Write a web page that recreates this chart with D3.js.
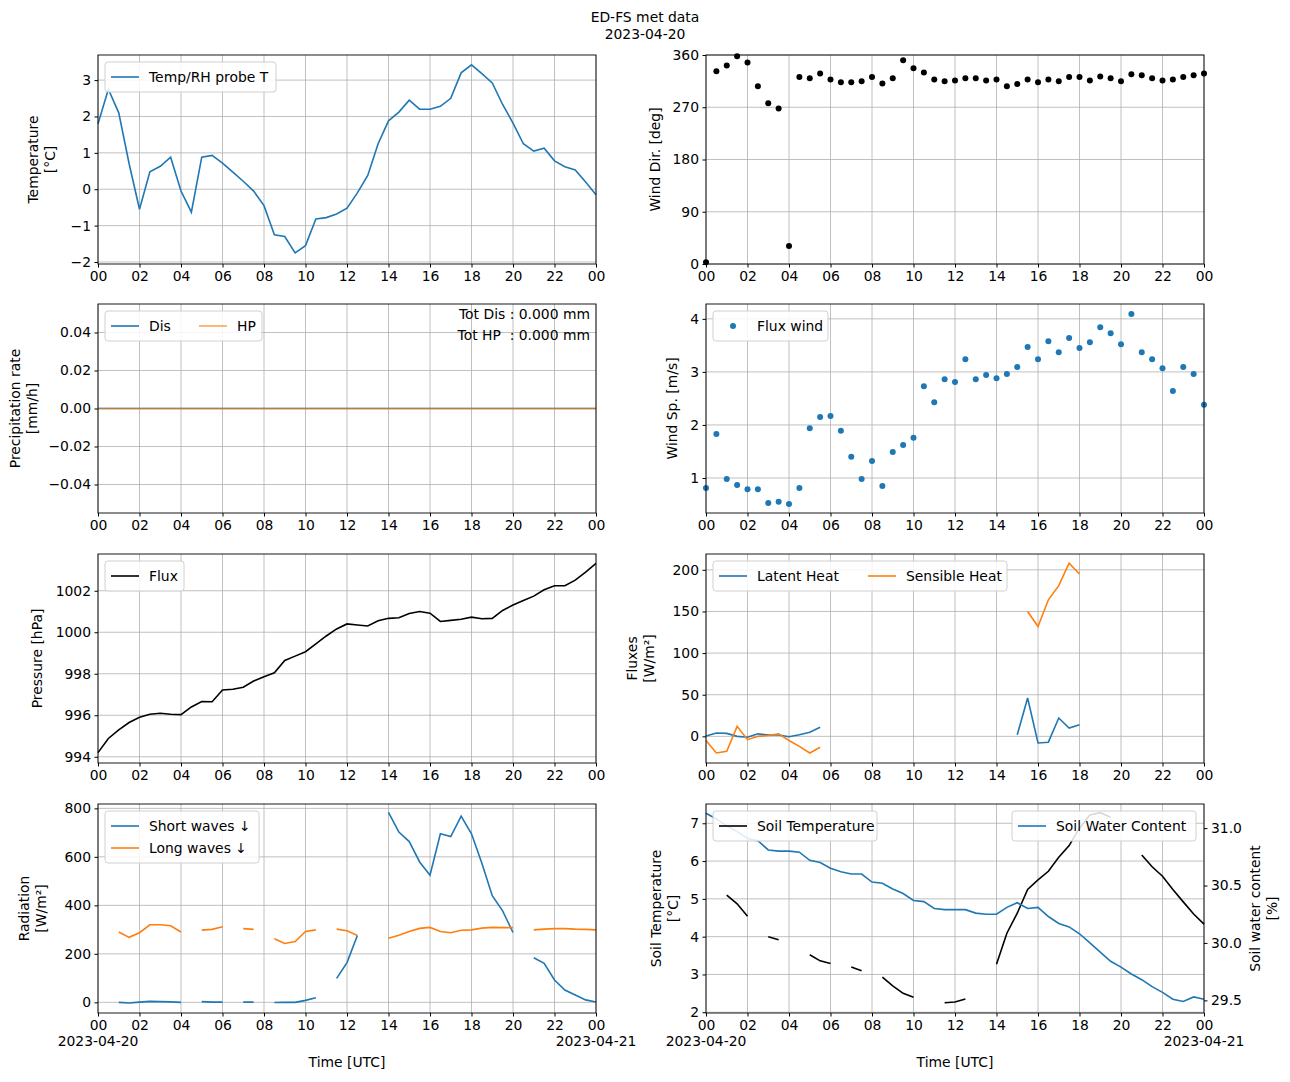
<!DOCTYPE html>
<html><head><meta charset="utf-8">
<script src="https://cdn.jsdelivr.net/npm/d3@7"></script>
<style>body{margin:0;background:#fff}text{font-family:"DejaVu Sans",sans-serif}</style>
</head><body><svg id="fig" width="1290" height="1082"></svg>
<script>
// half-hourly time stamps, hours since 2023-04-20 00:00 UTC
var hours = [0,0.5,1,1.5,2,2.5,3,3.5,4,4.5,5,5.5,6,6.5,7,7.5,8,8.5,9,9.5,10,10.5,11,11.5,12,12.5,13,13.5,14,14.5,15,15.5,16,16.5,17,17.5,18,18.5,19,19.5,20,20.5,21,21.5,22,22.5,23,23.5,24];
var xTicks = [0,2,4,6,8,10,12,14,16,18,20,22,24];
var xTickLabels = ["00","02","04","06","08","10","12","14","16","18","20","22","00"];

var airTemp = [1.8,2.75,2.1,0.7,-0.55,0.48,0.63,0.88,-0.05,-0.63,0.88,0.93,0.72,0.47,0.22,-0.05,-0.45,-1.25,-1.3,-1.75,-1.55,-0.82,-0.78,-0.68,-0.52,-0.1,0.38,1.25,1.88,2.12,2.45,2.2,2.2,2.28,2.5,3.2,3.42,3.18,2.92,2.33,1.82,1.25,1.05,1.13,0.78,0.62,0.53,0.2,-0.15];
var windDir = [3,332,342,358,347,306,277,268,31,322,320,328,318,313,313,315,322,311,320,351,337,330,318,315,316,320,320,316,318,306,310,318,313,318,315,322,322,316,323,320,315,327,325,320,316,318,322,325,328];
var precipDis = [0,0,0,0,0,0,0,0,0,0,0,0,0,0,0,0,0,0,0,0,0,0,0,0,0,0,0,0,0,0,0,0,0,0,0,0,0,0,0,0,0,0,0,0,0,0,0,0,0];
var precipHP = [0,0,0,0,0,0,0,0,0,0,0,0,0,0,0,0,0,0,0,0,0,0,0,0,0,0,0,0,0,0,0,0,0,0,0,0,0,0,0,0,0,0,0,0,0,0,0,0,0];
var windSpeed = [0.81,1.83,0.98,0.87,0.79,0.79,0.53,0.55,0.51,0.81,1.94,2.15,2.17,1.89,1.40,0.98,1.32,0.85,1.49,1.62,1.76,2.73,2.43,2.86,2.81,3.24,2.86,2.94,2.88,2.96,3.09,3.47,3.24,3.58,3.37,3.64,3.45,3.56,3.84,3.73,3.52,4.09,3.37,3.24,3.07,2.64,3.09,2.96,2.38];
var pressure = [994.2,994.88,995.3,995.65,995.9,996.05,996.1,996.05,996.03,996.4,996.66,996.65,997.22,997.25,997.35,997.65,997.86,998.05,998.64,998.85,999.06,999.44,999.82,1000.16,1000.4,1000.35,1000.3,1000.55,1000.67,1000.7,1000.9,1001.0,1000.92,1000.52,1000.57,1000.63,1000.73,1000.65,1000.67,1001.05,1001.31,1001.53,1001.74,1002.05,1002.24,1002.24,1002.51,1002.9,1003.32];
var latentHeat = [0.4,4,3.6,0,-1,3,1.6,1.6,-0.4,2,5,11,null,null,null,null,null,null,null,null,null,null,null,null,null,null,null,null,null,null,2,46,-8,-7,22,10,14,null,null,null,null,null,null,null,null,null,null,null,null];
var sensibleHeat = [-5,-20,-18,12,-4,0,1,3,-5,-12,-20,-13,null,null,null,null,null,null,null,null,null,null,null,null,null,null,null,null,null,null,null,150,132,164,181,208,195,null,null,null,null,null,null,null,null,null,null,null,null];
var shortWaves = [null,null,0,-3,1,4,3,2,0,null,3,1,1,null,1,1,null,-1,0,0,8,19,null,99,164,276,null,null,783,702,663,579,524,695,684,768,695,574,440,377,288,null,184,161,92,51,30,10,1];
var longWaves = [null,null,290,268,287,320,320,316,290,null,298,301,312,null,304,301,null,262,243,251,292,299,null,302,295,276,null,null,264,277,292,305,309,292,287,297,299,306,309,308,308,null,299,302,304,304,302,301,299];
var soilTemp = [null,null,5.1,4.87,4.54,null,4.0,3.92,null,null,3.52,3.36,3.29,null,3.2,3.1,null,2.93,2.7,2.5,2.4,null,null,2.25,2.27,2.35,null,null,3.27,4.09,4.62,5.25,5.5,5.73,6.1,6.41,6.87,7.22,7.28,7.16,null,null,6.16,5.85,5.6,5.25,4.92,4.6,4.33];
var soilWater = [31.13,31.08,31.02,30.97,30.91,30.89,30.81,30.80,30.80,30.79,30.72,30.70,30.65,30.62,30.60,30.60,30.53,30.52,30.47,30.43,30.37,30.36,30.30,30.29,30.29,30.29,30.26,30.25,30.25,30.31,30.35,30.30,30.31,30.23,30.17,30.14,30.08,30.0,29.92,29.84,29.79,29.73,29.68,29.62,29.57,29.51,29.49,29.53,29.51];

var C0 = "#1f77b4", C1 = "#ff7f0e", FS = 13.9;
var svg = d3.select("#fig");
var colX = [98, 706], rowY = [55, 304, 554, 804], W = 498, H = 209;
var fmtMinus = function(f) { return function(v) { return f(v).replace("-", "\u2212"); }; };

svg.append("text").attr("x", 645).attr("y", 22).attr("text-anchor", "middle").attr("font-size", FS).text("ED-FS met data");
svg.append("text").attr("x", 645).attr("y", 39).attr("text-anchor", "middle").attr("font-size", FS).text("2023-04-20");

function panel(col, row, yDomain, yTicks, yFmt, ylabel, labelX) {
    var g = svg.append("g").attr("transform", "translate(" + colX[col] + "," + rowY[row] + ")");
    var x = d3.scaleLinear().domain([0, 24]).range([0, W]);
    var y = d3.scaleLinear().domain(yDomain).range([H, 0]);
    // grid
    g.selectAll(".gx").data(xTicks).join("line").attr("x1", x).attr("x2", x).attr("y1", 0).attr("y2", H)
        .attr("stroke", "#b0b0b0").attr("stroke-width", 0.8);
    g.selectAll(".gy").data(yTicks).join("line").attr("y1", y).attr("y2", y).attr("x1", 0).attr("x2", W)
        .attr("stroke", "#b0b0b0").attr("stroke-width", 0.8);
    var xa = g.append("g").attr("transform", "translate(0," + H + ")")
        .call(d3.axisBottom(x).tickValues(xTicks).tickSizeOuter(0).tickSize(3.5).tickPadding(3.5).tickFormat(function(d, i) { return xTickLabels[i]; }));
    var ya = g.append("g").call(d3.axisLeft(y).tickValues(yTicks).tickSizeOuter(0).tickSize(3.5).tickPadding(3.5).tickFormat(yFmt));
    [xa, ya].forEach(function(a) { a.selectAll("text").attr("font-size", FS).attr("font-family", "DejaVu Sans").attr("fill", "#000"); a.select(".domain").remove(); });
    var lab = svg.append("text").attr("transform", "translate(" + labelX + "," + (rowY[row] + H / 2) + ") rotate(-90)")
        .attr("text-anchor", "middle").attr("font-size", FS);
    ylabel.forEach(function(s, i) { lab.append("tspan").attr("x", 0).attr("dy", i ? 17 : 0).text(s); });
    var plot = g.append("g");
    var p = { g: g, x: x, y: y, plot: plot };
    p.line = function(vals, color, yy, opacity) {
        yy = yy || y;
        plot.append("path").datum(hours.map(function(h, i) { return [h, vals[i]]; }))
            .attr("fill", "none").attr("stroke", color).attr("stroke-width", 1.6).attr("stroke-opacity", opacity || 1)
            .attr("d", d3.line().defined(function(d) { return d[1] != null; }).x(function(d) { return x(d[0]); }).y(function(d) { return yy(d[1]); }));
    };
    p.dots = function(vals, color) {
        plot.selectAll(null).data(hours.map(function(h, i) { return [h, vals[i]]; })).join("circle")
            .attr("cx", function(d) { return x(d[0]); }).attr("cy", function(d) { return y(d[1]); }).attr("r", 3).attr("fill", color);
    };
    p.frame = function() {
        g.append("rect").attr("width", W).attr("height", H).attr("fill", "none").attr("stroke", "#000").attr("stroke-width", 0.9);
    };
    p.legend = function(items, lx, ly, w, ncol, colW) {
        var rows = Math.ceil(items.length / ncol);
        var lg = g.append("g").attr("transform", "translate(" + lx + "," + ly + ")");
        lg.append("rect").attr("width", w).attr("height", 8 + rows * 22).attr("rx", 3).attr("fill", "#fff").attr("fill-opacity", 0.85).attr("stroke", "#d0d0d0");
        items.forEach(function(it, i) {
            var cx = 6 + (i % ncol) * (colW || 0), cy = 15 + Math.floor(i / ncol) * 22;
            if (it.dot) lg.append("circle").attr("cx", cx + 14).attr("cy", cy).attr("r", 3).attr("fill", it.color);
            else lg.append("line").attr("x1", cx).attr("x2", cx + 28).attr("y1", cy).attr("y2", cy).attr("stroke", it.color).attr("stroke-width", 1.6).attr("stroke-opacity", it.opacity || 1);
            lg.append("text").attr("x", cx + 38).attr("y", cy + 5).attr("font-size", FS).text(it.name);
        });
    };
    p.bottomDates = function() {
        g.append("text").attr("x", 0).attr("y", H + 33).attr("text-anchor", "middle").attr("font-size", FS).text("2023-04-20");
        g.append("text").attr("x", W).attr("y", H + 33).attr("text-anchor", "middle").attr("font-size", FS).text("2023-04-21");
        g.append("text").attr("x", W / 2).attr("y", H + 54).attr("text-anchor", "middle").attr("font-size", FS).text("Time [UTC]");
    };
    return p;
}

var f0 = fmtMinus(d3.format("d")), f2 = fmtMinus(d3.format(".2f"));

// Temperature
var p1 = panel(0, 0, [-2.055, 3.69], [-2,-1,0,1,2,3], f0, ["Temperature", "[\u00b0C]"], 38);
p1.line(airTemp, C0); p1.frame();
p1.legend([{ name: "Temp/RH probe T", color: C0 }], 7, 7, 171, 1);

// Wind direction
var p2 = panel(1, 0, [0, 360], [0,90,180,270,360], f0, ["Wind Dir. [deg]"], 660);
p2.dots(windDir, "#000"); p2.frame();

// Precipitation
var p3 = panel(0, 1, [-0.055, 0.055], [-0.04,-0.02,0,0.02,0.04], f2, ["Precipitation rate", "[mm/h]"], 20);
p3.line(precipDis, C0); p3.line(precipHP, C1, null, 0.7); p3.frame();
p3.legend([{ name: "Dis", color: C0 }, { name: "HP", color: C1, opacity: 0.7 }], 7, 7, 157, 2, 88);
p3.g.append("text").attr("x", W - 6).attr("y", 15).attr("text-anchor", "end").attr("font-size", FS).attr("xml:space", "preserve").text("Tot Dis : 0.000 mm");
p3.g.append("text").attr("x", W - 6).attr("y", 36).attr("text-anchor", "end").attr("font-size", FS).attr("xml:space", "preserve").text("Tot HP  : 0.000 mm");

// Wind speed
var p4 = panel(1, 1, [0.34, 4.28], [1,2,3,4], f0, ["Wind Sp. [m/s]"], 677);
p4.dots(windSpeed, C0); p4.frame();
p4.legend([{ name: "Flux wind", color: C0, dot: true }], 7, 7, 115, 1);

// Pressure
var p5 = panel(0, 2, [993.7, 1003.77], [994,996,998,1000,1002], f0, ["Pressure [hPa]"], 42);
p5.line(pressure, "#000"); p5.frame();
p5.legend([{ name: "Flux", color: "#000" }], 7, 7, 79, 1);

// Fluxes
var p6 = panel(1, 2, [-32, 219], [0,50,100,150,200], f0, ["Fluxes", "[W/m\u00b2]"], 637);
p6.line(latentHeat, C0); p6.line(sensibleHeat, C1); p6.frame();
p6.legend([{ name: "Latent Heat", color: C0 }, { name: "Sensible Heat", color: C1 }], 7, 7, 294, 2, 149);

// Radiation
var p7 = panel(0, 3, [-44, 818], [0,200,400,600,800], f0, ["Radiation", "[W/m\u00b2]"], 29);
p7.line(shortWaves, C0); p7.line(longWaves, C1); p7.frame();
p7.legend([{ name: "Short waves \u2193", color: C0 }, { name: "Long waves \u2193", color: C1 }], 7, 7, 154, 1);
p7.bottomDates();

// Soil temperature + soil water content (twin axis)
var p8 = panel(1, 3, [1.98, 7.51], [2,3,4,5,6,7], f0, ["Soil Temperature", "[\u00b0C]"], 661);
p8.line(soilTemp, "#000");
p8.legend([{ name: "Soil Temperature", color: "#000" }], 7, 7, 164, 1);
var y2 = d3.scaleLinear().domain([29.39, 31.21]).range([H, 0]);
p8.line(soilWater, C0, y2);
var ra = p8.g.append("g").attr("transform", "translate(" + W + ",0)")
    .call(d3.axisRight(y2).tickValues([29.5,30.0,30.5,31.0]).tickFormat(d3.format(".1f")).tickSize(3.5).tickPadding(3.5).tickSizeOuter(0));
ra.selectAll("text").attr("font-size", FS).attr("font-family", "DejaVu Sans");
ra.select(".domain").remove();
p8.legend([{ name: "Soil Water Content", color: C0 }], 306, 7, 184, 1);
p8.frame();
var rl = svg.append("text").attr("transform", "translate(1260," + (rowY[3] + H / 2) + ") rotate(-90)").attr("text-anchor", "middle").attr("font-size", FS);
rl.append("tspan").attr("x", 0).attr("dy", 0).text("Soil water content");
rl.append("tspan").attr("x", 0).attr("dy", 17).text("[%]");
p8.bottomDates();
</script></body></html>
